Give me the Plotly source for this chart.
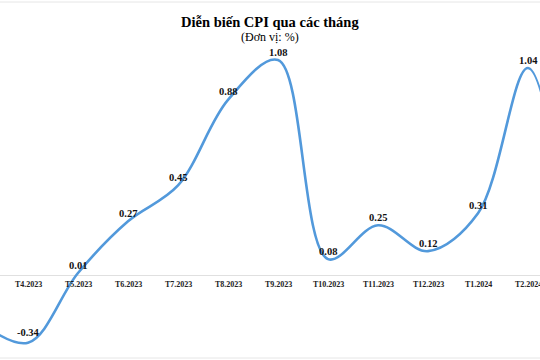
import plotly.graph_objects as go

months = ["T3.2023", "T4.2023", "T5.2023", "T6.2023", "T7.2023", "T8.2023", "T9.2023",
          "T10.2023", "T11.2023", "T12.2023", "T1.2024", "T2.2024", "T3.2024"]
cpi = [-0.23, -0.34, 0.01, 0.27, 0.45, 0.88, 1.08, 0.08, 0.25, 0.12, 0.31, 1.04, -0.23]

idx = list(range(len(months)))

fig = go.Figure()
fig.add_trace(go.Scatter(
    x=idx, y=cpi, mode="lines",
    line=dict(color="#5299DB", width=2.6, shape="spline", smoothing=1.0),
    hoverinfo="skip", showlegend=False,
))

annotations = []
for i, (m, v) in enumerate(zip(months, cpi)):
    annotations.append(dict(
        x=i, y=v, xref="x", yref="y", text=f"<b>{v:.2f}</b>", showarrow=False,
        yshift=8 if v >= 0 else 10, font=dict(family="Liberation Serif", size=10.5, color="#111"),
    ))
    annotations.append(dict(
        x=i, y=0, xref="x", yref="y", text=f"<b>{m}</b>", showarrow=False,
        yshift=-9, font=dict(family="Liberation Serif", size=8, color="#222"),
    ))

annotations.append(dict(
    x=0.5, y=1 - 12 / 360, xref="paper", yref="paper", showarrow=False,
    text="<b>Diễn biến CPI qua các tháng</b>",
    font=dict(family="Liberation Serif", size=14.5, color="#000"),
))
annotations.append(dict(
    x=0.5, y=1 - 28 / 360, xref="paper", yref="paper", showarrow=False,
    text="(Đơn vị: %)",
    font=dict(family="Liberation Serif", size=12, color="#000"),
))

fig.update_layout(
    width=540, height=360,
    margin=dict(l=0, r=0, t=0, b=0),
    paper_bgcolor="white", plot_bgcolor="white",
    xaxis=dict(range=[0.44, 11.24], visible=False, showgrid=False),
    yaxis=dict(range=[-0.427, 1.382], showgrid=False, showticklabels=False, ticks="",
               zeroline=True, zerolinecolor="#e0e0e0", zerolinewidth=1),
    annotations=annotations,
    shapes=[
        dict(type="line", xref="paper", yref="paper", x0=0, x1=1, y0=1 - 2 / 360, y1=1 - 2 / 360,
             line=dict(color="#e6e6e6", width=1)),
        dict(type="line", xref="paper", yref="paper", x0=0, x1=1, y0=2 / 360, y1=2 / 360,
             line=dict(color="#e6e6e6", width=1)),
    ],
)

fig.write_html("out.html")
